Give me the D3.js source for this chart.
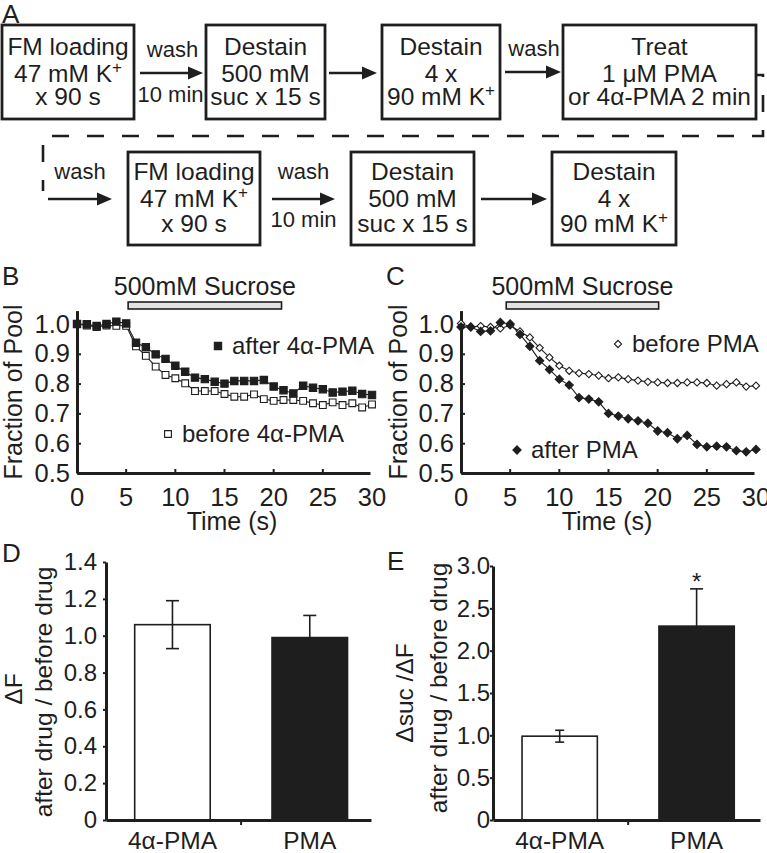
<!DOCTYPE html>
<html><head><meta charset="utf-8">
<script src="https://cdn.jsdelivr.net/npm/d3@7"></script>
<style>
body{margin:0;background:#fff}
svg{display:block}
text{font-family:"Liberation Sans",Arial,Helvetica,sans-serif;fill:#1e1e1e}
</style>
</head><body>
<svg id="fig" width="767" height="853"></svg>
<script>
// ---------------- DATA ----------------
const flowRow1 = [
  ["FM loading", "47 mM K+", "x 90 s"],
  ["Destain", "500 mM", "suc x 15 s"],
  ["Destain", "4 x", "90 mM K+"],
  ["Treat", "1 \u03bcM PMA", "or 4\u03b1-PMA 2 min"]
];
const flowRow2 = [
  ["FM loading", "47 mM K+", "x 90 s"],
  ["Destain", "500 mM", "suc x 15 s"],
  ["Destain", "4 x", "90 mM K+"]
];
const arrowLabels1 = [["wash", "10 min"], [], ["wash"]];
const arrowLabels2 = [["wash"], ["wash", "10 min"], []];

const timeSec = [0,1,2,3,4,5,6,7,8,9,10,11,12,13,14,15,16,17,18,19,20,21,22,23,24,25,26,27,28,29,30];
const bAfter4a  = [1.000,0.999,0.993,1.000,1.008,1.002,0.937,0.922,0.898,0.883,0.860,0.840,0.820,0.815,0.806,0.800,0.809,0.809,0.809,0.812,0.790,0.778,0.767,0.793,0.786,0.781,0.770,0.773,0.776,0.765,0.762];
const bBefore4a = [1.000,0.995,0.990,0.995,0.994,0.994,0.925,0.893,0.857,0.829,0.818,0.801,0.775,0.775,0.775,0.765,0.756,0.756,0.764,0.748,0.742,0.745,0.745,0.742,0.734,0.728,0.737,0.728,0.734,0.720,0.730];
const cBeforePMA = [1.002,0.990,0.993,0.990,0.985,0.995,0.975,0.955,0.920,0.888,0.860,0.843,0.835,0.832,0.827,0.818,0.821,0.815,0.810,0.806,0.804,0.802,0.802,0.804,0.804,0.802,0.793,0.798,0.804,0.790,0.793];
const cAfterPMA  = [0.990,0.990,0.975,0.977,1.005,1.000,0.965,0.925,0.877,0.847,0.815,0.795,0.753,0.748,0.739,0.700,0.691,0.682,0.675,0.667,0.641,0.635,0.615,0.626,0.596,0.588,0.590,0.588,0.575,0.571,0.579];
const sucroseB = [5.2, 20.8];
const sucroseC = [4.6, 20.1];
const timeTicks = [0,5,10,15,20,25,30];
const poolTicks = [0.5,0.6,0.7,0.8,0.9,1.0];

const barCats = ["4\u03b1-PMA", "PMA"];
const dMeans = [1.06, 0.99];
const dErrs  = [0.13, 0.12];
const eMeans = [0.99, 2.29];
const eErrs  = [0.07, 0.44];
const dTicks = [0,0.2,0.4,0.6,0.8,1.0,1.2,1.4];
const eTicks = [0,0.5,1.0,1.5,2.0,2.5,3.0];

// ---------------- DRAW ----------------
const FONT = '"Liberation Sans", Arial, Helvetica, sans-serif';
const INK = "#1e1e1e";
const svg = d3.select("#fig");

function label(x, y, s, size, anchor) {
  return svg.append("text").attr("x", x).attr("y", y).attr("font-size", size)
    .attr("text-anchor", anchor || "start").text(s);
}
function boxLine(t, ln) {
  if (ln.endsWith("K+")) {
    t.append("tspan").text(ln.slice(0, -1));
    t.append("tspan").attr("dy", -9).attr("font-size", 17).text("+");
  } else t.text(ln);
}

// Panel A
label(2, 23, "A", 26);
const row1Layout = [[2,132],[206,119],[382,118],[563,193]];
const row2Layout = [[128,132],[351,123],[552,124]];
function drawRow(layout, texts, top, h, baselines) {
  layout.forEach(([x, w], i) => {
    svg.append("rect").attr("x", x).attr("y", top).attr("width", w).attr("height", h)
      .attr("fill", "none").attr("stroke", INK).attr("stroke-width", 2.8);
    texts[i].forEach((ln, j) => {
      const t = svg.append("text").attr("x", x + w / 2).attr("y", baselines[j])
        .attr("text-anchor", "middle").attr("font-size", 24.5);
      boxLine(t, ln);
    });
  });
}
drawRow(row1Layout, flowRow1, 25, 94, [55, 82, 105]);
drawRow(row2Layout, flowRow2, 152, 93, [180, 207, 232]);

function arrow(x1, x2, y) {
  svg.append("line").attr("x1", x1).attr("x2", x2 - 12).attr("y1", y).attr("y2", y)
    .attr("stroke", INK).attr("stroke-width", 2.4);
  svg.append("path").attr("d", `M${x2 - 15},${y - 6.5}L${x2},${y}L${x2 - 15},${y + 6.5}Z`).attr("fill", INK);
}
const arrows1 = [[140,203,73],[329,377,73],[505,561,72]];
const arrows2 = [[48,112,199],[272,335,199],[481,547,199]];
arrows1.forEach((a, i) => {
  arrow(a[0], a[1], a[2]);
  const cx = (a[0] + a[1]) / 2;
  if (arrowLabels1[i][0]) label(cx + 1, a[2] - 16, arrowLabels1[i][0], 22, "middle");
  if (arrowLabels1[i][1]) label(cx - 1, a[2] + 29, arrowLabels1[i][1], 22, "middle");
});
arrows2.forEach((a, i) => {
  arrow(a[0], a[1], a[2]);
  const cx = (a[0] + a[1]) / 2;
  if (arrowLabels2[i][0]) label(cx, a[2] - 20, arrowLabels2[i][0], 22, "middle");
  if (arrowLabels2[i][1]) label(cx, a[2] + 28, arrowLabels2[i][1], 22, "middle");
});
svg.append("path").attr("d", "M756,75H763V136H43V191")
  .attr("fill", "none").attr("stroke", INK).attr("stroke-width", 2.6)
  .attr("stroke-dasharray", "17,18").attr("stroke-dashoffset", 8);

// Axis styling helper
function styleAxis(g, size) {
  g.attr("font-family", FONT).attr("font-size", size);
  g.select(".domain").attr("stroke", INK).attr("stroke-width", 3);
  g.selectAll(".tick line").attr("stroke", INK).attr("stroke-width", 2);
  g.selectAll(".tick text").attr("fill", INK);
}

// Panels B and C
function timeCourse(cfg) {
  const x = d3.scaleLinear().domain([0, 30]).range([cfg.x0, cfg.x0 + 295]);
  const y = d3.scaleLinear().domain([0.5, 1.0]).range([473, 324]);
  const yAx = y.copy().domain([0.5, 1.045]).range([473, y(1.045)]);
  svg.append("g").attr("transform", `translate(${cfg.x0},0)`)
    .call(d3.axisLeft(yAx).tickValues(poolTicks).tickSize(-4).tickSizeOuter(0).tickPadding(7).tickFormat(d3.format(".1f")))
    .call(g => styleAxis(g, 25.5));
  svg.append("g").attr("transform", "translate(0,473)")
    .call(d3.axisBottom(x.copy().range([cfg.x0, cfg.x0 + 293]).domain([0, 30 * 293 / 295])).tickValues(timeTicks).tickSize(-4).tickSizeOuter(0).tickPadding(15))
    .call(g => styleAxis(g, 25.5))
    .call(g => g.selectAll(".tick").attr("transform", d => `translate(${x(d)},0)`))
    .call(g => g.selectAll(".tick").filter(d => d === 0 || d === 30).select("line").remove());
  label(cfg.timeX, 530, "Time (s)", 25, "middle");
  svg.append("text").attr("transform", `translate(${cfg.titleX},392) rotate(-90)`)
    .attr("text-anchor", "middle").attr("font-size", 25).text("Fraction of Pool");
  label(cfg.letterX, 285, cfg.letter, 26);
  // sucrose bar
  svg.append("rect").attr("x", x(cfg.sucrose[0])).attr("y", 302)
    .attr("width", x(cfg.sucrose[1]) - x(cfg.sucrose[0])).attr("height", 7)
    .attr("fill", "#e2e2e2").attr("stroke", INK).attr("stroke-width", 1.6);
  label((x(cfg.sucrose[0]) + x(cfg.sucrose[1])) / 2, 295, "500mM Sucrose", 25, "middle");
  const line = d3.line().x((d, i) => x(timeSec[i])).y(d => y(d));
  cfg.series.forEach(s => {
    svg.append("path").attr("d", line(s.values)).attr("fill", "none")
      .attr("stroke", INK).attr("stroke-width", 1.1);
  });
  cfg.series.forEach(s => {
    svg.append("g").selectAll("path").data(s.values).join("path")
      .attr("transform", (d, i) => `translate(${x(timeSec[i])},${y(d)})` + (s.diamond ? " rotate(45)" : ""))
      .attr("d", d3.symbol(d3.symbolSquare, s.size)())
      .attr("fill", s.fill).attr("stroke", INK).attr("stroke-width", 1.1);
    svg.append("path")
      .attr("transform", `translate(${s.legend[0]},${s.legend[1]})` + (s.diamond ? " rotate(45)" : ""))
      .attr("d", d3.symbol(d3.symbolSquare, s.size)())
      .attr("fill", s.fill).attr("stroke", INK).attr("stroke-width", 1.1);
    label(s.legend[0] + 14, s.legend[1] + 8, s.name, 24);
  });
}
timeCourse({
  x0: 77, letter: "B", letterX: 2, titleX: 22, timeX: 232, sucrose: sucroseB,
  series: [
    { name: "before 4\u03b1-PMA", values: bBefore4a, fill: "#fff", size: 46, diamond: false, legend: [168, 434] },
    { name: "after 4\u03b1-PMA", values: bAfter4a, fill: INK, size: 54, diamond: false, legend: [218, 346] }
  ]
});
timeCourse({
  x0: 461, letter: "C", letterX: 386, titleX: 407, timeX: 607, sucrose: sucroseC,
  series: [
    { name: "before PMA", values: cBeforePMA, fill: "#fff", size: 26, diamond: true, legend: [618, 344] },
    { name: "after PMA", values: cAfterPMA, fill: INK, size: 34, diamond: true, legend: [517, 450] }
  ]
});

// Panels D and E
function barPanel(cfg) {
  const x = d3.scaleBand().domain(barCats).range([cfg.x0, cfg.x1])
    .paddingInner(0.45).paddingOuter(cfg.po).align(cfg.align);
  const y = d3.scaleLinear().domain(cfg.domain).range([820, cfg.top]);
  svg.append("g").selectAll("rect").data(cfg.means).join("rect")
    .attr("x", (d, i) => x(barCats[i])).attr("width", x.bandwidth())
    .attr("y", d => y(d)).attr("height", d => 820 - y(d))
    .attr("fill", (d, i) => i === 0 ? "#fff" : INK).attr("stroke", INK).attr("stroke-width", 1.6);
  cfg.means.forEach((m, i) => {
    const cx = x(barCats[i]) + x.bandwidth() / 2;
    const hw = cfg.caps[i] / 2;
    const g = svg.append("g").attr("stroke", INK).attr("stroke-width", 1.6);
    g.append("line").attr("x1", cx).attr("x2", cx).attr("y1", y(m - cfg.errs[i])).attr("y2", y(m + cfg.errs[i]));
    g.append("line").attr("x1", cx - hw).attr("x2", cx + hw).attr("y1", y(m + cfg.errs[i])).attr("y2", y(m + cfg.errs[i]));
    g.append("line").attr("x1", cx - hw).attr("x2", cx + hw).attr("y1", y(m - cfg.errs[i])).attr("y2", y(m - cfg.errs[i]));
  });
  svg.append("g").attr("transform", `translate(${cfg.x0},0)`)
    .call(d3.axisLeft(y).tickValues(cfg.ticks).tickSize(3).tickSizeOuter(0).tickPadding(cfg.pad)
      .tickFormat(d => d === 0 ? "0" : d3.format(".1f")(d)))
    .call(g => styleAxis(g, 24));
  svg.append("g").attr("transform", "translate(0,820)")
    .call(d3.axisBottom(x).tickSize(0).tickSizeOuter(0).tickPadding(8))
    .call(g => styleAxis(g, 24.5))
    .call(g => g.selectAll(".tick text").attr("dy", "0.71em").attr("y", 12));
  const mid = (x(barCats[0]) + x.bandwidth() + x(barCats[1])) / 2;
  svg.append("line").attr("x1", mid).attr("x2", mid).attr("y1", 820).attr("y2", 825)
    .attr("stroke", INK).attr("stroke-width", 2);
  cfg.titles.forEach(t => {
    svg.append("text").attr("transform", `translate(${t[0]},${t[1]}) rotate(-90)`)
      .attr("text-anchor", "middle").attr("font-size", 24.5).text(t[2]);
  });
  label(cfg.letterX, cfg.letterY, cfg.letter, 26);
  return { x, y };
}
barPanel({
  x0: 106, x1: 371, po: 0.19, align: 0.55, top: 562, domain: [0, 1.4], ticks: dTicks, pad: 6,
  means: dMeans, errs: dErrs, caps: [13, 13], letter: "D", letterX: 2, letterY: 562,
  titles: [[22, 689, "\u0394F"], [52, 692, "after drug / before drug"]]
});
const E = barPanel({
  x0: 493, x1: 760, po: 0.2, align: 0.53, top: 566, domain: [0, 3.0], ticks: eTicks, pad: 0,
  means: eMeans, errs: eErrs, caps: [9, 13], letter: "E", letterX: 387, letterY: 570,
  titles: [[413, 693, "\u0394suc /\u0394F"], [447, 688, "after drug / before drug"]]
});
label(E.x(barCats[1]) + E.x.bandwidth() / 2, 590, "*", 24, "middle");
</script>
</body></html>
